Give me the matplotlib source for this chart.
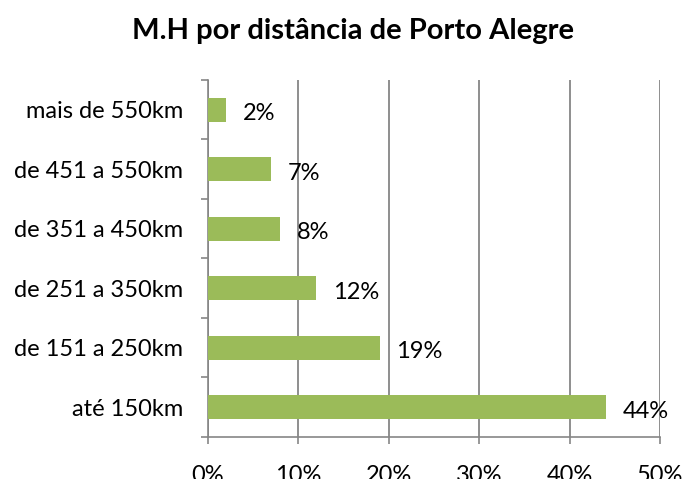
import matplotlib.pyplot as plt
from matplotlib.ticker import FixedLocator

plt.rcParams['font.family'] = ['Lato', 'DejaVu Sans']

categories = ['até 150km', 'de 151 a 250km', 'de 251 a 350km',
              'de 351 a 450km', 'de 451 a 550km', 'mais de 550km']
values = [44, 19, 12, 8, 7, 2]
xticks = [0, 10, 20, 30, 40, 50]

green = '#9BBB59'
gray = '#868686'

fig = plt.figure(figsize=(6.85, 4.79), dpi=100)
ax = fig.add_axes([0.3036, 0.0877, 0.66, 0.7453])

pos = list(range(len(categories)))
ax.barh(pos, values, height=0.4, color=green, zorder=3)

for p, v in zip(pos, values):
    ax.annotate(f'{v}%', (v, p), xytext=(12, -3), textcoords='offset points',
                va='center', ha='left', fontsize=17)

ax.set_xlim(0, 50)
ax.set_ylim(-0.5, len(categories) - 0.5)
ax.set_xticks(xticks)
ax.set_xticklabels([f'{t}%' for t in xticks], fontsize=17)
ax.set_yticks(pos)
ax.set_yticklabels(categories, fontsize=17)
ax.yaxis.set_major_locator(FixedLocator(pos))
ax.set_yticks([p - 0.5 for p in pos] + [len(categories) - 0.5], minor=True)

ax.tick_params(axis='y', which='major', length=0, pad=18)
ax.tick_params(axis='y', which='minor', length=5, width=1.2, color=gray)
ax.tick_params(axis='x', length=5, width=1.2, color=gray, pad=15)

ax.grid(axis='x', color=gray, linewidth=1.3, zorder=0)
for s in ['top', 'right']:
    ax.spines[s].set_visible(False)
for s in ['left', 'bottom']:
    ax.spines[s].set_color(gray)
    ax.spines[s].set_linewidth(1.2)

fig.text(0.516, 0.935, 'M.H por distância de Porto Alegre', ha='center',
         va='center', fontsize=21, fontweight='bold')

fig.savefig('out.png', dpi=100)
